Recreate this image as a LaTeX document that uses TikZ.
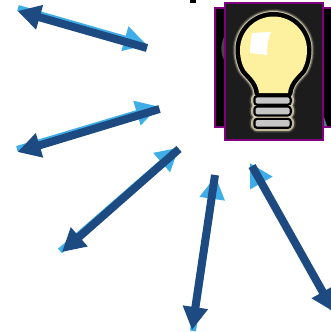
\documentclass[tikz,border=0pt]{standalone}
\usepackage{xcolor}
\usetikzlibrary{arrows.meta}
\definecolor{ray_dark}{HTML}{1D4A80}
\definecolor{ray_light}{HTML}{3FAEE8}
\definecolor{panel_edge}{HTML}{800080}
\definecolor{bulb_glass}{HTML}{FDF19F}
\definecolor{bulb_glow}{HTML}{DDD5B5}
\definecolor{bulb_panel}{HTML}{1C1C1C}
\definecolor{bulb_bar}{HTML}{C6C6C6}

\begin{document}
\begin{tikzpicture}[
    x=1pt,
    y=-1pt,
    lightray/.style={
        draw=ray_light,
        line width=6pt,
        -{Triangle[length=23pt,width=24pt]}
    },
    darkray/.style={
        draw=ray_dark,
        line width=8pt,
        -{Triangle[length=23pt,width=24pt]}
    },
    panel/.style={
        draw=panel_edge,
        line width=2pt
    },
    glow/.style={
        draw=bulb_glow,
        line join=round
    }
]
\useasboundingbox (0,0) rectangle (331,332);

% panels
\fill[black] (190,-2) rectangle (196,3);
\draw[panel, fill=black] (215,7.5) rectangle (334,127);
\fill[gray, opacity=0.55] (224,37) .. controls (220.5,44) and (220.5,53) .. (224,60) -- cycle;
\fill[ray_light!35!gray, opacity=0.8] (324,117) .. controls (325,120) and (326,123) .. (327,126) -- (324,126) -- cycle;
\draw[panel, fill=bulb_panel] (224.5,2.5) rectangle (323,140);

% bulb
\def\bulbpath{(259,93) .. controls (258,82) and (250,76) .. (245,70)
    .. controls (242,65) and (240,58) .. (240,50)
    .. controls (240,31.5) and (255,16.5) .. (273.5,16.5)
    .. controls (292,16.5) and (307,31.5) .. (307,50)
    .. controls (307,58) and (305,65) .. (302,70)
    .. controls (297,76) and (289,82) .. (288,93) -- cycle}
\draw[glow, line width=15pt, opacity=0.15] \bulbpath;
\draw[glow, line width=13pt, opacity=0.35] \bulbpath;
\draw[glow, line width=11pt, opacity=0.8] \bulbpath;
\foreach \bartop/\barbot in {97.3/103.6, 107.7/114.3, 120/126.7} {
    \draw[glow, line width=12pt, opacity=0.2, rounded corners=2pt] (255.5,\bartop) rectangle (289.5,\barbot);
    \draw[glow, line width=9pt, opacity=0.8, rounded corners=2pt] (255.5,\bartop) rectangle (289.5,\barbot);
}
\draw[draw=black, line width=9pt, line join=round] \bulbpath;
\fill[bulb_glass] \bulbpath;
\fill[white] (252,33) -- (271,32) .. controls (268,38) and (267,46) .. (267,55) -- (250,53) .. controls (250,46) and (251,40) .. cycle;
\foreach \bartop/\barbot in {97.3/103.6, 107.7/114.3, 120/126.7} {
    \draw[fill=bulb_bar, draw=black, line width=4.5pt, rounded corners=2pt] (255.5,\bartop) rectangle (289.5,\barbot);
    \fill[bulb_bar, rounded corners=1.5pt] (255.5,\bartop) rectangle (289.5,\barbot);
}

% rays
\coordinate (R1in) at (147,45);
\coordinate (R1out) at (18,8);
\coordinate (R2in) at (159,106.5);
\coordinate (R2out) at (17,149);
\coordinate (R3in) at (179,147.5);
\coordinate (R3out) at (60,251);
\coordinate (R4in) at (215.5,176);
\coordinate (R4out) at (193,331);
\coordinate (R5in) at (250,163);
\coordinate (R5out) at (333,309);

\draw[lightray] (R1out) -- (R1in);
\draw[lightray] (R2out) -- (R2in);
\draw[lightray] (R3out) -- (R3in);
\draw[lightray] (R4out) -- (R4in);
\draw[lightray] (R5out) -- (R5in);

\coordinate (T1in) at (147,48);
\coordinate (T1out) at (17.5,11);
\coordinate (T2in) at (159.5,109);
\coordinate (T2out) at (17.5,152);
\coordinate (T3in) at (179,149);
\coordinate (T3out) at (62,252);
\coordinate (T4in) at (215,175);
\coordinate (T4out) at (192,330);
\coordinate (T5in) at (252,166);
\coordinate (T5out) at (334,312);

\draw[darkray] (T1in) -- (T1out);
\draw[darkray] (T2in) -- (T2out);
\draw[darkray] (T3in) -- (T3out);
\draw[darkray] (T4in) -- (T4out);
\draw[darkray] (T5in) -- (T5out);

\end{tikzpicture}
\end{document}
